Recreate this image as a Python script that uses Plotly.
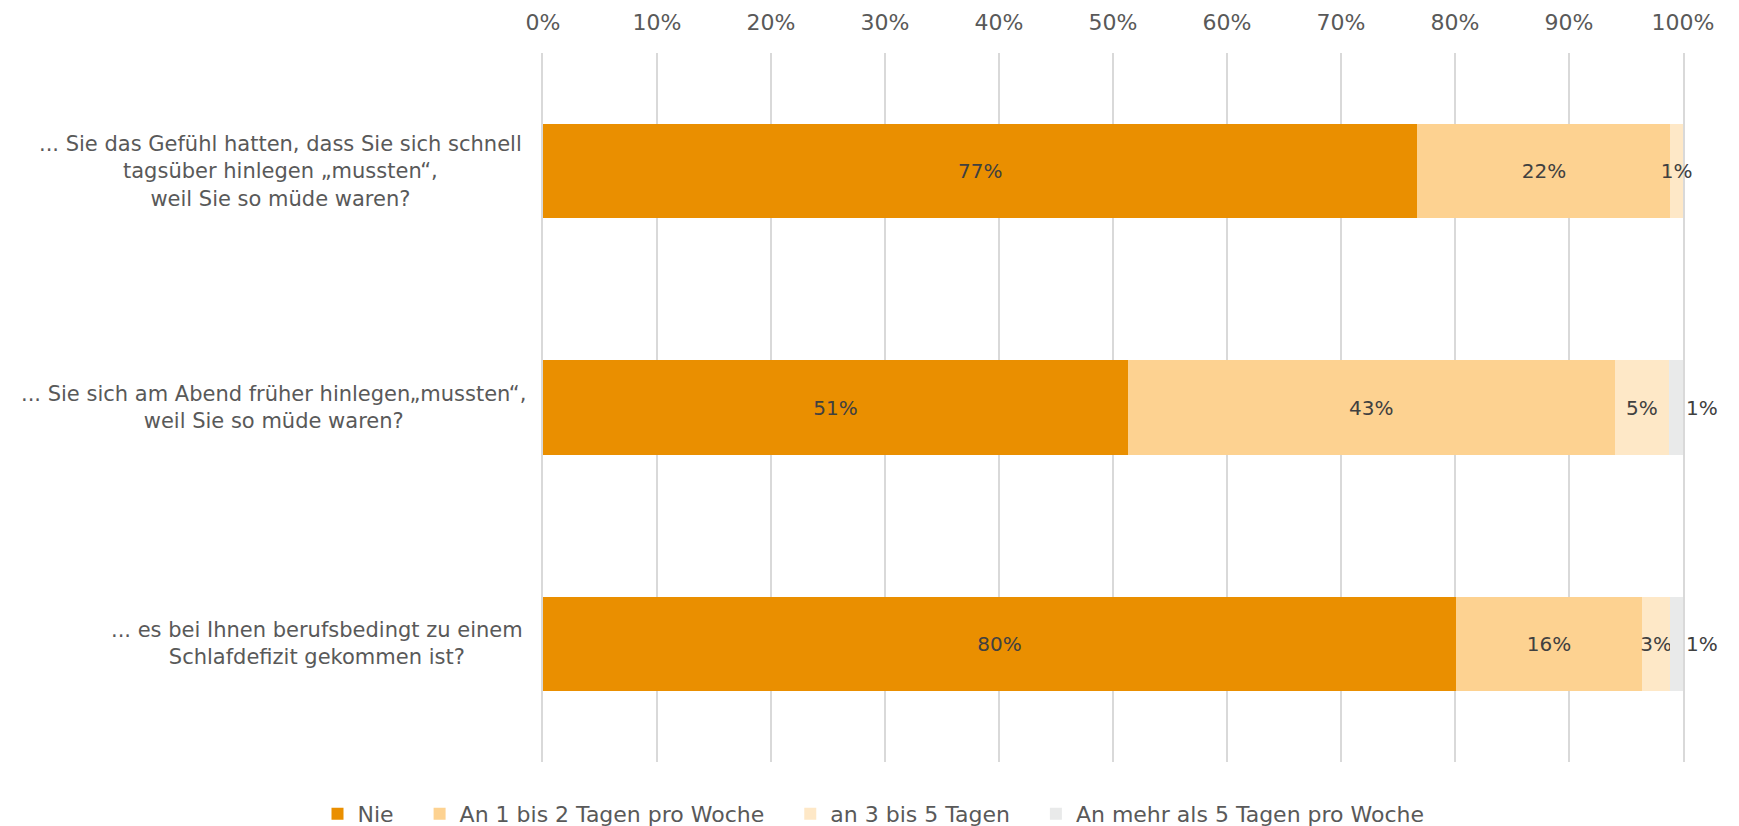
import plotly.graph_objects as go

categories = [
    "... Sie das Gefühl hatten, dass Sie sich schnell<br>tagsüber hinlegen „mussten“,<br>weil Sie so müde waren?",
    "... Sie sich am Abend früher hinlegen„mussten“,<br>weil Sie so müde waren?",
    "... es bei Ihnen berufsbedingt zu einem<br>Schlafdefizit gekommen ist?",
]
series_names = ["Nie", "An 1 bis 2 Tagen pro Woche", "an 3 bis 5 Tagen", "An mehr als 5 Tagen pro Woche"]
values_nie = [76.7, 51.3, 80.1]
values_1_2 = [22.2, 42.7, 16.3]
values_3_5 = [1.1, 4.8, 2.5]
values_mehr = [0.0, 1.2, 1.1]
labels_nie = ["77%", "51%", "80%"]
labels_1_2 = ["22%", "43%", "16%"]
labels_3_5 = ["1%", "5%", "3%"]
labels_mehr = ["", "1%", "1%"]
tick_vals = [0, 10, 20, 30, 40, 50, 60, 70, 80, 90, 100]
tick_text = ["0%", "10%", "20%", "30%", "40%", "50%", "60%", "70%", "80%", "90%", "100%"]

colors = ["#EA8F00", "#FDD291", "#FEE8C7", "#E9EAEA"]
FONT = "DejaVu Sans, sans-serif"
PAD = "\u00a0\u00a0\u00a0"  # extra spacing after legend entries

fig = go.Figure()
all_vals = [values_nie, values_1_2, values_3_5, values_mehr]
all_labels = [labels_nie, labels_1_2, labels_3_5, labels_mehr]
for i, (name, vals, labs) in enumerate(zip(series_names, all_vals, all_labels)):
    fig.add_trace(go.Bar(
        y=categories, x=vals, name=name + (PAD if i < 3 else ""), orientation="h",
        marker=dict(color=colors[i], line=dict(width=0)),
        text=labs,
        textposition="outside" if i == 3 else "inside",
        insidetextanchor="middle",
        textangle=0,
        constraintext="none",
        cliponaxis=False,
        textfont=dict(family=FONT, size=20, color="#404040"),
        outsidetextfont=dict(family=FONT, size=20, color="#404040"),
        hoverinfo="skip",
    ))

label_shifts = [-19, -15, -18]
for cat, sh in zip(categories, label_shifts):
    fig.add_annotation(x=0, xref="paper", y=cat, yref="y", text=cat, showarrow=False,
                       xanchor="right", yanchor="middle", align="center", xshift=sh,
                       font=dict(family=FONT, size=21, color="#595959"))

fig.update_layout(
    barmode="stack",
    bargap=0.6,
    width=1731, height=818,
    margin=dict(l=535, r=56, t=45, b=64),
    paper_bgcolor="white", plot_bgcolor="white",
    font=dict(family=FONT, size=20, color="#595959"),
    xaxis=dict(side="top", range=[0, 100], tickvals=tick_vals, ticktext=tick_text,
               showgrid=True, gridcolor="#D9D9D9", gridwidth=1.5, zeroline=False,
               showline=False, ticks="", ticklabelstandoff=18, automargin=False,
               tickfont=dict(family=FONT, size=22, color="#595959")),
    yaxis=dict(autorange="reversed", showticklabels=False, showgrid=False, zeroline=False,
               showline=True, linecolor="#D9D9D9", linewidth=1.5, mirror=True,
               layer="below traces", ticks="", automargin=False),
    legend=dict(orientation="h", xref="container", yref="container", x=0.5, xanchor="center",
                y=0.0147, yanchor="middle", font=dict(family=FONT, size=22, color="#595959"),
                traceorder="normal", itemwidth=30),
    showlegend=True,
)

fig.write_html("out.html")
